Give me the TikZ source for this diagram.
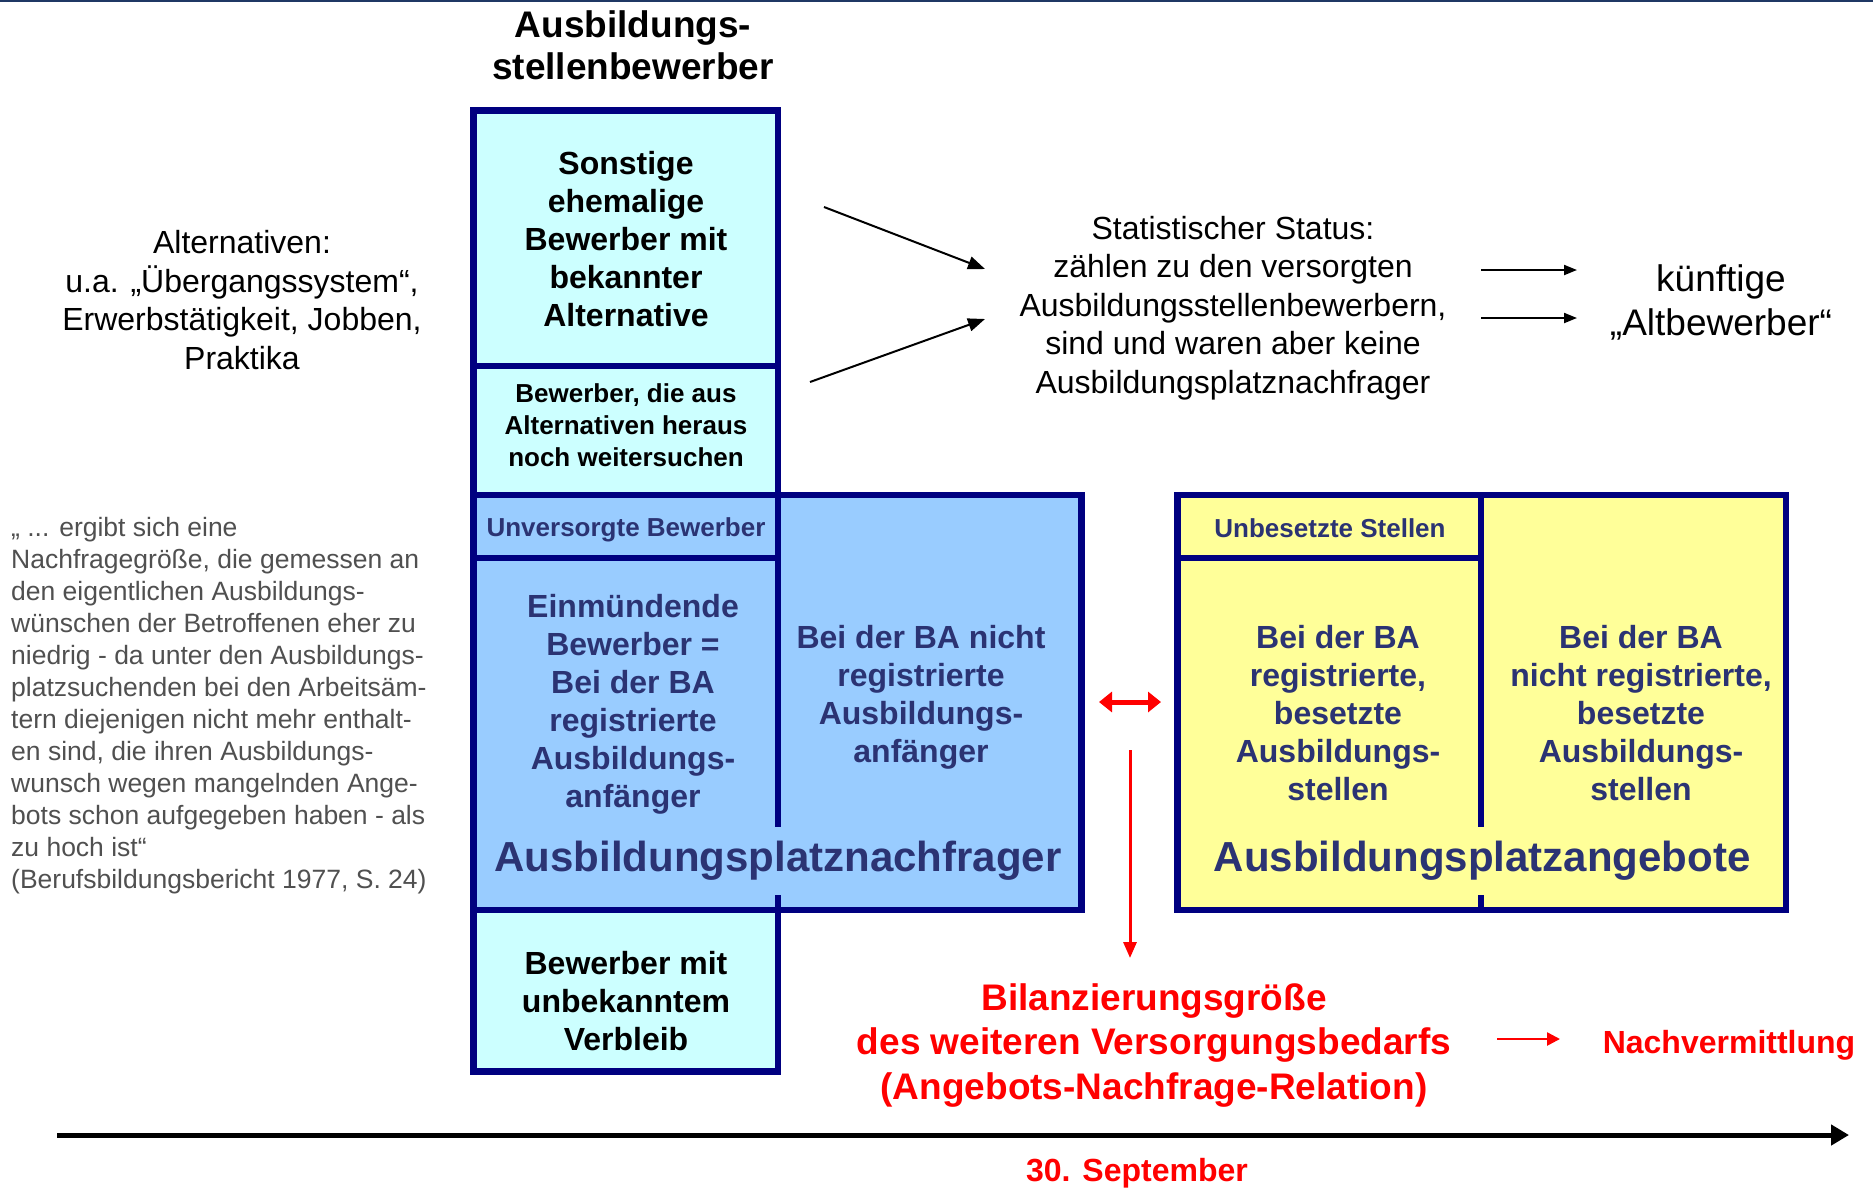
\documentclass[tikz,border=0pt]{standalone}
\usepackage{fontspec}
\setmainfont{Liberation Sans}
\usetikzlibrary{arrows.meta}
\definecolor{cyanfill}{HTML}{CCFFFF}
\definecolor{bluefill}{HTML}{99CCFF}
\definecolor{yellowfill}{HTML}{FFFF99}
\definecolor{navyline}{HTML}{000080}
\definecolor{navytext}{HTML}{2B3373}
\definecolor{quotegray}{HTML}{505050}
\definecolor{topline}{HTML}{1F3864}
\definecolor{redtext}{HTML}{FF0000}
\begin{document}
\begin{tikzpicture}[x=1pt,y=-1pt,
  cellbox/.style={draw=navyline,line width=6.5pt,inner sep=0pt,outer sep=0pt,anchor=north west},
  bigbold/.style={font=\fontsize{32}{38}\selectfont\bfseries,align=center,inner sep=0pt},
  smallbold/.style={font=\fontsize{26}{32}\selectfont\bfseries,align=center,inner sep=0pt},
  plain/.style={font=\fontsize{32}{38.5}\selectfont,align=center,inner sep=0pt},
  labelbig/.style={font=\fontsize{42}{48}\selectfont\bfseries,text=navytext,inner xsep=4pt,inner ysep=14pt},
  blackarrow/.style={line width=2pt,-{Triangle[length=17pt,width=13pt]}},
  shortarrow/.style={line width=2pt,-{Triangle[length=13pt,width=10pt]}}
]
\useasboundingbox (0,0) rectangle (1873,1187);
\fill[white] (0,0) rectangle (1873,1187);
\coordinate (tl) at (0,1);
\coordinate (tr) at (1873,1);
\draw[topline,line width=2.5pt] (tl) -- (tr);

% title
\node[font=\fontsize{37}{42}\selectfont\bfseries,align=center,inner sep=0pt] (title) at (633,45) {Ausbildungs-\\stellenbewerber};

% blue big box and left column
\node[cellbox,fill=bluefill,minimum width=608pt,minimum height=415pt] (bluebox) at (473.5,495) {};
\node[cellbox,fill=cyanfill,minimum width=304.5pt,minimum height=255.5pt] (sonstcell) at (473.5,110.5) {};
\node[cellbox,fill=cyanfill,minimum width=304.5pt,minimum height=129pt] (weitercell) at (473.5,366) {};
\node[cellbox,fill=bluefill,minimum width=304.5pt,minimum height=63pt] (unverscell) at (473.5,495) {};
\node[cellbox,fill=bluefill,minimum width=304.5pt,minimum height=352pt] (einmcell) at (473.5,558) {};
\node[cellbox,fill=cyanfill,minimum width=304.5pt,minimum height=161.5pt] (verbleibcell) at (473.5,910) {};

% yellow box
\node[cellbox,fill=yellowfill,minimum width=608.5pt,minimum height=415pt] (yellowbox) at (1177.5,495) {};
\node[cellbox,fill=yellowfill,minimum width=303.5pt,minimum height=63pt] (unbescell) at (1177.5,495) {};
\node[cellbox,fill=yellowfill,minimum width=303.5pt,minimum height=352pt] (regbescell) at (1177.5,558) {};

% texts in left column
\node[bigbold] (sonst) at (626,239) {Sonstige\\ehemalige\\Bewerber mit\\bekannter\\Alternative};
\node[smallbold] (weiter) at (626,425) {Bewerber, die aus\\Alternativen heraus\\noch weitersuchen};
\node[smallbold,text=navytext] (unvers) at (626,530) {Unversorgte Bewerber};
\node[bigbold,text=navytext] (einm) at (633,704) {Einmündende\\Bewerber =\\Bei der BA\\registrierte\\Ausbildungs-\\anfänger};
\node[bigbold,text=navytext] (nichtreg) at (921,697) {Bei der BA nicht\\registrierte\\Ausbildungs-\\anfänger};
\node[bigbold] (verbleib) at (626,1001) {Bewerber mit\\unbekanntem\\Verbleib};
\node[labelbig,fill=bluefill] (nachfrager) at (778,861) {Ausbildungsplatznachfrager};

% texts in yellow box
\node[smallbold,text=navytext] (unbes) at (1330,528) {Unbesetzte Stellen};
\node[bigbold,text=navytext] (regbes) at (1338,713) {Bei der BA\\registrierte,\\besetzte\\Ausbildungs-\\stellen};
\node[bigbold,text=navytext] (nichtbes) at (1641,713) {Bei der BA\\nicht registrierte,\\besetzte\\Ausbildungs-\\stellen};
\node[labelbig,fill=yellowfill] (angebote) at (1482,861) {Ausbildungsplatzangebote};

% left texts
\node[plain] (altern) at (242,300) {Alternativen:\\u.a. „Übergangssystem“,\\Erwerbstätigkeit, Jobben,\\Praktika};
\node[font=\fontsize{26.5}{32}\selectfont,text=quotegray,align=left,inner sep=0pt,anchor=west] (quote) at (11,706) {„ ... ergibt sich eine\\Nachfragegröße, die gemessen an\\den eigentlichen Ausbildungs-\\wünschen der Betroffenen eher zu\\niedrig - da unter den Ausbildungs-\\platzsuchenden bei den Arbeitsäm-\\tern diejenigen nicht mehr enthalt-\\en sind, die ihren Ausbildungs-\\wunsch wegen mangelnden Ange-\\bots schon aufgegeben haben - als\\zu hoch ist“\\(Berufsbildungsbericht 1977, S. 24)};

% status
\node[plain] (status) at (1233,308) {Statistischer Status:\\zählen zu den versorgten\\Ausbildungsstellenbewerbern,\\sind und waren aber keine\\Ausbildungsplatznachfrager};
\node[font=\fontsize{37}{44}\selectfont,align=center,inner sep=0pt] (kuenftig) at (1721,302) {künftige\\„Altbewerber“};

\coordinate (a1s) at (824,207);
\coordinate (a1e) at (985,269);
\coordinate (a2s) at (810,382);
\coordinate (a2e) at (985,319);
\draw[blackarrow] (a1s) -- (a1e);
\draw[blackarrow] (a2s) -- (a2e);
\coordinate (a3s) at (1481,270);
\coordinate (a3e) at (1577,270);
\coordinate (a4s) at (1481,318);
\coordinate (a4e) at (1577,318);
\draw[shortarrow] (a3s) -- (a3e);
\draw[shortarrow] (a4s) -- (a4e);

% red part
\coordinate (dl) at (1099,702);
\coordinate (dr) at (1161,702);
\draw[redtext,line width=5pt,{Triangle[length=13pt,width=20pt]}-{Triangle[length=13pt,width=20pt]}] (dl) -- (dr);
\coordinate (vs) at (1130,750);
\coordinate (ve) at (1130,958);
\draw[redtext,line width=3pt,-{Triangle[length=16pt,width=13pt]}] (vs) -- (ve);
\node[font=\fontsize{37}{44.5}\selectfont\bfseries,text=redtext,align=center,inner sep=0pt] (bilanz) at (1154,1045) {Bilanzierungsgröße\\des weiteren Versorgungsbedarfs\\(Angebots-Nachfrage-Relation)};
\coordinate (rs) at (1497,1039);
\coordinate (re) at (1560,1039);
\draw[redtext,line width=2.5pt,-{Triangle[length=13pt,width=13pt]}] (rs) -- (re);
\node[font=\fontsize{32}{38}\selectfont\bfseries,text=redtext,inner sep=0pt] (nachverm) at (1729,1045) {Nachvermittlung};

% timeline
\coordinate (ts) at (57,1135);
\coordinate (te) at (1849,1135);
\draw[line width=5pt,-{Triangle[length=18pt,width=20pt]}] (ts) -- (te);
\node[font=\fontsize{32}{38}\selectfont\bfseries,text=redtext,inner sep=0pt] (sept) at (1137,1173) {30. September};
\end{tikzpicture}
\end{document}
